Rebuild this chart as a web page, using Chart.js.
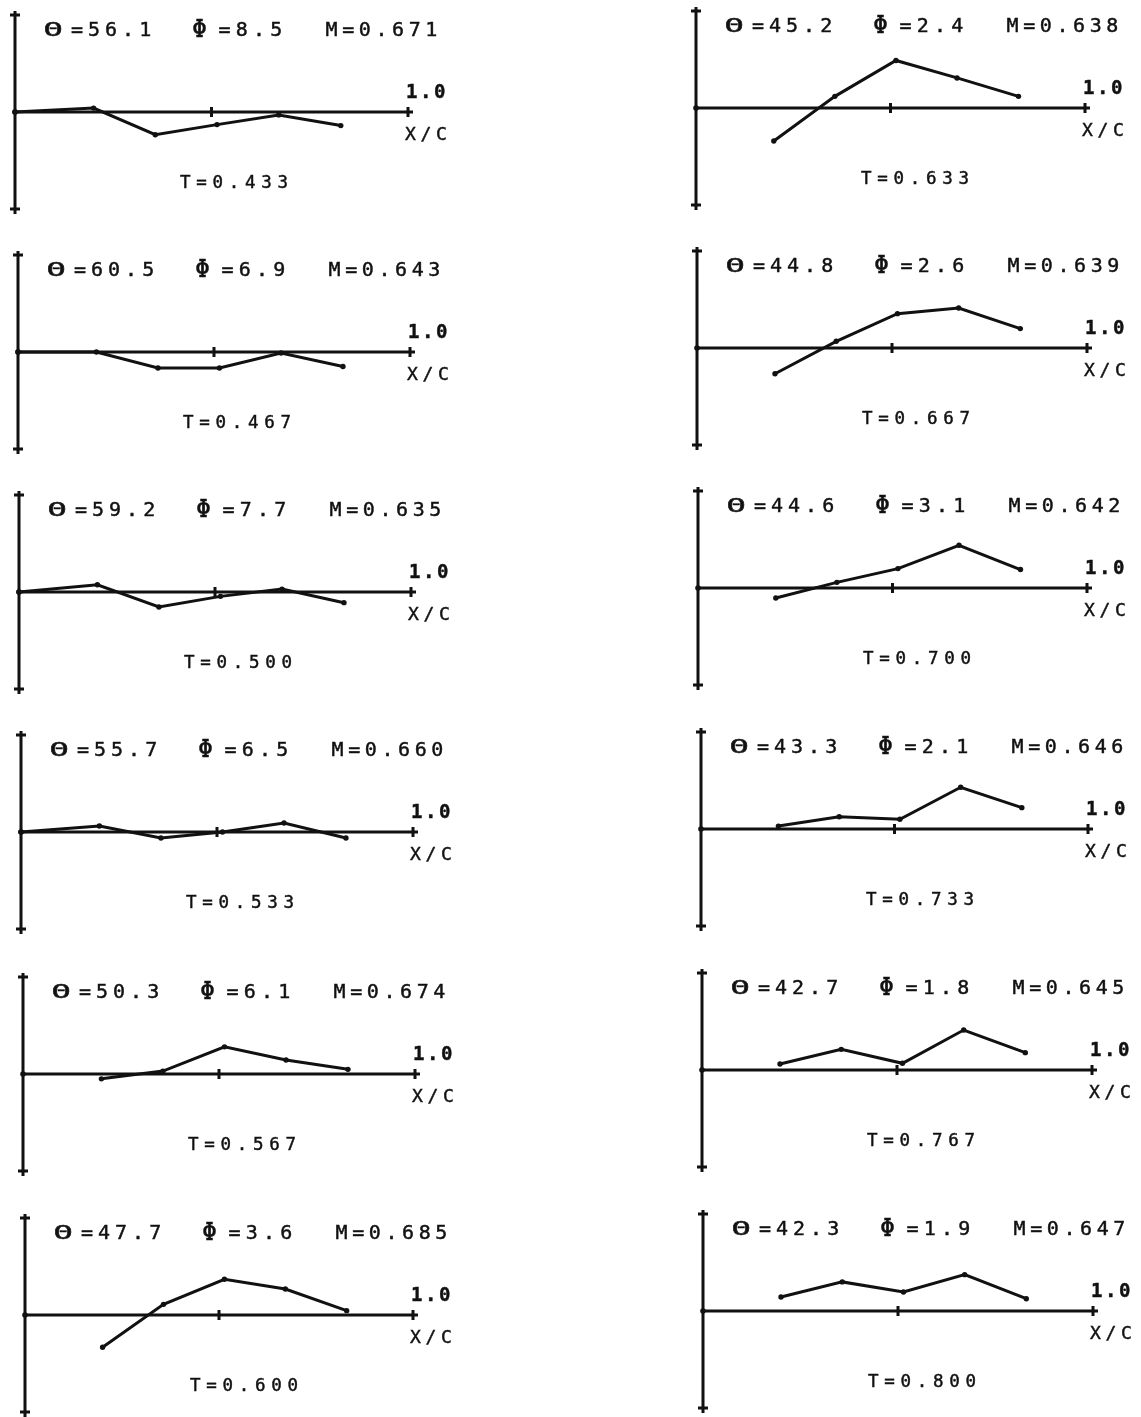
<!DOCTYPE html>
<html>
<head>
<meta charset="utf-8">
<title>Pressure distributions vs X/C</title>
<script src="https://cdn.jsdelivr.net/npm/chart.js@4/dist/chart.umd.min.js"></script>
<style>
  html, body { margin: 0; padding: 0; background: #fff; }
  body { width: 1141px; height: 1417px; position: relative; overflow: hidden; }
  canvas.panel { position: absolute; }
  .lbl { position: absolute; white-space: pre; color: #111;
         font-family: "DejaVu Sans Mono", "Liberation Mono", monospace;
         -webkit-text-stroke: 0.45px #111; }
</style>
</head>
<body>
<script>
// Chordwise stations (X/C) shared by every panel
const xc = [0, 0.2, 0.357, 0.514, 0.671, 0.829];

// Panel captions
const tLabels = ['0.433', '0.467', '0.500', '0.533', '0.567', '0.600',
                 '0.633', '0.667', '0.700', '0.733', '0.767', '0.800'];
const theta = ['56.1', '60.5', '59.2', '55.7', '50.3', '47.7',
               '45.2', '44.8', '44.6', '43.3', '42.7', '42.3'];
const phi   = ['8.5', '6.9', '7.7', '6.5', '6.1', '3.6',
               '2.4', '2.6', '3.1', '2.1', '1.8', '1.9'];
const mach  = ['0.671', '0.643', '0.635', '0.660', '0.674', '0.685',
               '0.638', '0.639', '0.642', '0.646', '0.645', '0.647'];

// Distribution values at each station (null = no value at that station)
const t433 = [0, 0.04, -0.234, -0.13, -0.03, -0.14];
const t467 = [0, 0.0, -0.165, -0.165, -0.01, -0.15];
const t500 = [0, 0.075, -0.155, -0.045, 0.03, -0.11];
const t533 = [0, 0.062, -0.062, 0.0, 0.093, -0.062];
const t567 = [null, -0.05, 0.03, 0.28, 0.144, 0.048];
const t600 = [null, -0.333, 0.11, 0.368, 0.268, 0.045];
const t633 = [null, -0.34, 0.12, 0.49, 0.31, 0.12];
const t667 = [null, -0.265, 0.069, 0.354, 0.412, 0.2];
const t700 = [null, -0.103, 0.058, 0.2, 0.44, 0.19];
const t733 = [null, 0.03, 0.127, 0.1, 0.43, 0.22];
const t767 = [null, 0.062, 0.213, 0.069, 0.412, 0.179];
const t800 = [null, 0.144, 0.3, 0.196, 0.375, 0.127];

const series = [t433, t467, t500, t533, t567, t600,
                t633, t667, t700, t733, t767, t800];

// Page placement of each panel: y-axis x, zero-line y, x position of X/C = 1.0
const placement = [
  [15, 112, 408], [18, 352, 410], [19, 592, 411],
  [21, 832, 413], [23, 1074, 415], [25, 1315, 413],
  [696, 108, 1085], [697, 348, 1087], [698, 588, 1087],
  [701, 829, 1088], [702, 1070, 1092], [703, 1311, 1093]
];

const INK = '#111';
const HALF = 97;      // pixels from the zero line to the end crosses
const PAD = 22;

function addText(str, x, cy, size, spacing, opts) {
  const d = document.createElement('div');
  d.className = 'lbl';
  d.textContent = str;
  d.style.left = x + 'px';
  d.style.top = (cy - size * 0.5) + 'px';
  d.style.fontSize = size + 'px';
  d.style.lineHeight = size + 'px';
  d.style.letterSpacing = spacing + 'px';
  if (opts && opts.bold) d.style.fontWeight = 'bold';
  if (opts && opts.scaleX) {
    d.style.transform = 'scaleX(' + opts.scaleX + ')';
    d.style.transformOrigin = 'center center';
  }
  document.body.appendChild(d);
}

// Draws the plotter-style axes: vertical axis with end crosses,
// horizontal axis with ticks at X/C = 0.5 and 1.0
const plotterAxes = {
  id: 'plotterAxes',
  beforeDatasetsDraw(chart) {
    const { ctx, scales: { x, y } } = chart;
    const x0 = x.getPixelForValue(0);
    const xm = x.getPixelForValue(0.5);
    const x1 = x.getPixelForValue(1);
    const y0 = y.getPixelForValue(0);
    const yt = y.getPixelForValue(1);
    const yb = y.getPixelForValue(-1);
    ctx.save();
    ctx.strokeStyle = INK;
    ctx.lineWidth = 3;
    ctx.lineCap = 'butt';
    ctx.beginPath();
    // vertical axis
    ctx.moveTo(x0, yt - 4); ctx.lineTo(x0, yb + 5);
    // end crosses
    ctx.moveTo(x0 - 5, yt); ctx.lineTo(x0 + 5, yt);
    ctx.moveTo(x0 - 5, yb); ctx.lineTo(x0 + 5, yb);
    // horizontal axis
    ctx.moveTo(x0 - 2, y0); ctx.lineTo(x1 + 5, y0);
    // ticks
    ctx.moveTo(xm, y0 - 5); ctx.lineTo(xm, y0 + 5);
    ctx.moveTo(x1, y0 - 5); ctx.lineTo(x1, y0 + 5);
    ctx.stroke();
    ctx.restore();
  }
};

series.forEach((vals, i) => {
  const [ax, zy, ox] = placement[i];
  const span = ox - ax;
  const cv = document.createElement('canvas');
  cv.className = 'panel';
  const w = span + 2 * PAD;
  const h = 2 * HALF + 2 * PAD;
  cv.width = w; cv.height = h;
  cv.style.left = (ax - PAD) + 'px';
  cv.style.top = (zy - HALF - PAD) + 'px';
  cv.style.width = w + 'px';
  cv.style.height = h + 'px';
  document.body.appendChild(cv);

  const pts = [];
  xc.forEach((xv, k) => { if (vals[k] !== null) pts.push({ x: xv, y: vals[k] }); });

  new Chart(cv, {
    type: 'line',
    data: {
      datasets: [
        {
          data: pts,
          borderColor: INK,
          backgroundColor: INK,
          borderWidth: 3,
          pointRadius: 2.7,
          pointBackgroundColor: INK,
          pointBorderWidth: 0,
          tension: 0,
          fill: false,
          clip: false
        },
        {
          // origin mark
          data: [{ x: 0, y: 0 }],
          showLine: false,
          pointRadius: 2.8,
          pointBackgroundColor: INK,
          pointBorderWidth: 0,
          clip: false
        }
      ]
    },
    options: {
      responsive: false,
      animation: false,
      devicePixelRatio: 1,
      events: [],
      layout: { padding: { left: PAD, right: PAD, top: PAD, bottom: PAD } },
      plugins: { legend: { display: false }, tooltip: { enabled: false }, title: { display: false } },
      scales: {
        x: { type: 'linear', min: 0, max: 1, display: false },
        y: { type: 'linear', min: -1, max: 1, display: false }
      }
    },
    plugins: [plotterAxes]
  });

  // Captions
  const ty = zy - 83;
  addText('\u0398', ax + 37.5 - 6, ty, 20, 0, { scaleX: 1.6 });
  addText('=' + theta[i], ax + 62 - 6, ty, 20, 5.0);
  addText('\u03A6', ax + 184.5 - 7.5, ty - 1, 25, 0);
  addText('=' + phi[i], ax + 209.5 - 6, ty, 20, 5.2);
  addText('M=' + mach[i], ax + 316.5 - 6, ty, 20, 4.6);
  addText('1.0', ox - 2, zy - 21, 19, 2.6, { bold: true });
  addText('X/C', ox - 3, zy + 22, 18, 4.7);
  addText('T=' + tLabels[i], ax + 165, zy + 71, 17.5, 5.7);
});
</script>
</body>
</html>
